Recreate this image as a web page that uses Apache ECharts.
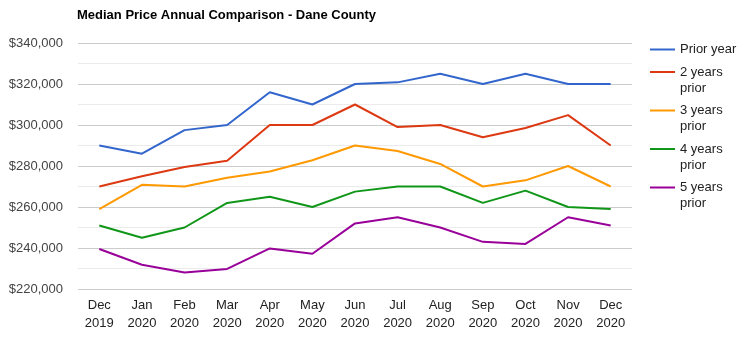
<!DOCTYPE html>
<html>
<head>
<meta charset="utf-8">
<script src="https://cdn.jsdelivr.net/npm/echarts@6/dist/echarts.min.js"></script>
<style>
  html, body { margin: 0; padding: 0; background: #fff; }
  #chart { width: 747px; height: 339px; }
</style>
</head>
<body>
<div id="chart"></div>
<script>
// Month labels (two lines: month / year)
const months = ['Dec\n2019', 'Jan\n2020', 'Feb\n2020', 'Mar\n2020', 'Apr\n2020', 'May\n2020',
  'Jun\n2020', 'Jul\n2020', 'Aug\n2020', 'Sep\n2020', 'Oct\n2020', 'Nov\n2020', 'Dec\n2020'];

// Median sale price per month, by comparison year
const priorYear   = [290000, 286000, 297500, 300000, 316000, 310000, 320000, 320800, 325000, 320000, 325000, 320000, 320000];
const twoYears    = [270000, 275000, 279500, 282600, 300000, 300000, 310000, 299000, 300000, 294000, 298500, 304800, 290000];
const threeYears  = [259000, 270800, 270000, 274300, 277300, 282800, 290000, 287300, 281000, 270000, 273000, 280000, 270000];
const fourYears   = [251000, 245000, 250000, 262000, 265000, 260000, 267500, 270000, 270000, 262000, 268000, 260000, 259000];
const fiveYears   = [239500, 231800, 228000, 229800, 239800, 237200, 252000, 255000, 250000, 243000, 242000, 255000, 251000];

const seriesNames = ['Prior year', '2 years\nprior', '3 years\nprior', '4 years\nprior', '5 years\nprior'];
const seriesData  = [priorYear, twoYears, threeYears, fourYears, fiveYears];
const colors      = ['#3366cc', '#dc3912', '#ff9900', '#109618', '#990099'];

const chart = echarts.init(document.getElementById('chart'), null, { renderer: 'canvas' });

const fmtMoney = v => '$' + v.toLocaleString('en-US');

// Wrapped legend entries: a blank spacer line on top keeps the swatch level with the first line
const legendLabel = name => {
  const parts = name.split('\n');
  if (parts.length === 1) return '{t|' + name + '}';
  return '{sp| }\n' + parts.map(p => '{t|' + p + '}').join('\n');
};

chart.setOption({
  animation: false,
  color: colors,
  title: {
    text: 'Median Price Annual Comparison - Dane County',
    left: 77,
    top: 9,
    padding: 0,
    textStyle: { fontFamily: 'Liberation Sans, Arial', fontSize: 13, fontWeight: 'bold', color: '#000' }
  },
  legend: {
    orient: 'vertical',
    left: 649,
    top: 43,
    padding: 0,
    itemGap: -6.5,
    itemWidth: 25,
    itemHeight: 14,
    data: seriesNames,
    formatter: legendLabel,
    itemStyle: { opacity: 0 },
    textStyle: {
      fontFamily: 'Liberation Sans, Arial',
      fontSize: 13,
      color: '#222',
      rich: {
        t: { fontFamily: 'Liberation Sans, Arial', fontSize: 13, lineHeight: 16, color: '#222' },
        sp: { fontSize: 13, lineHeight: 16 }
      }
    }
  },
  grid: { left: 78, right: 115, top: 43, bottom: 50 },
  xAxis: {
    type: 'category',
    data: months,
    boundaryGap: true,
    axisLine: { show: false },
    axisTick: { show: false },
    axisLabel: {
      margin: 7,
      interval: 0,
      fontFamily: 'Liberation Sans, Arial',
      fontSize: 13,
      lineHeight: 18,
      color: '#222'
    }
  },
  yAxis: {
    type: 'value',
    min: 220000,
    max: 340000,
    interval: 20000,
    axisLine: { show: false },
    axisTick: { show: false },
    axisLabel: {
      margin: 15,
      formatter: fmtMoney,
      fontFamily: 'Liberation Sans, Arial',
      fontSize: 13,
      color: '#444'
    },
    splitLine: { lineStyle: { color: '#cccccc', width: 1 } },
    minorTick: { show: false, splitNumber: 2 },
    minorSplitLine: { show: true, lineStyle: { color: '#ebebeb', width: 1 } }
  },
  series: seriesNames.map((n, i) => ({
    name: n,
    type: 'line',
    data: seriesData[i],
    symbol: 'none',
    lineStyle: { width: 2, color: colors[i] },
    itemStyle: { color: colors[i] }
  }))
});
</script>
</body>
</html>
